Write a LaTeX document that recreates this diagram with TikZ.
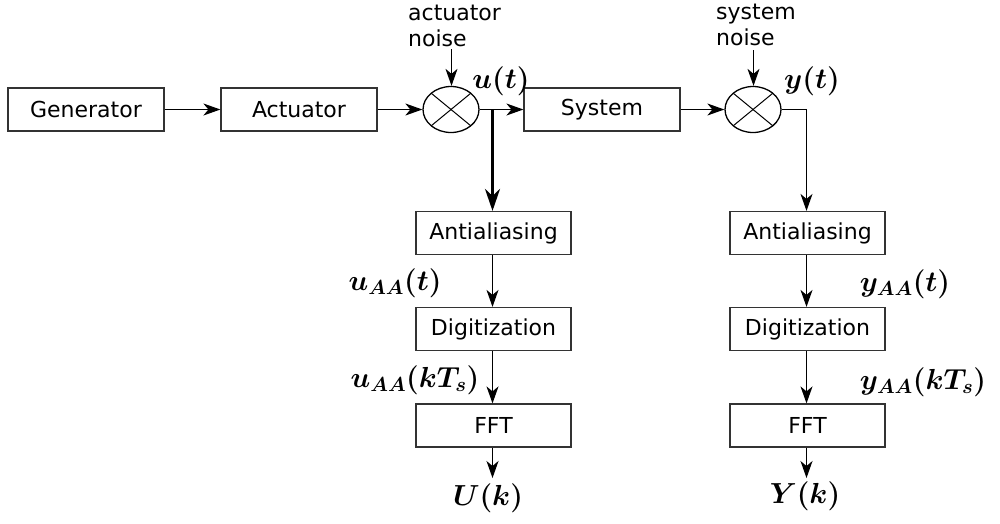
\RequirePackage{fix-cm}
\documentclass[tikz,border=0pt]{standalone}
\usepackage[no-math]{fontspec}
\newfontfamily\dv{DejaVu Sans}
\usetikzlibrary{arrows.meta,shapes.geometric,calc}
\begin{document}
\begin{tikzpicture}[x=1pt,y=-1pt,
  blk/.style={draw=black!80,line width=1.2pt,minimum width=156pt,minimum height=43pt,inner sep=0pt,font=\dv\fontsize{22}{26}\selectfont},
  sumj/.style={ellipse,draw=black,line width=1.3pt,minimum width=56pt,minimum height=46pt,inner sep=0pt},
  lbl/.style={inner sep=0pt,font=\fontsize{29}{33}\selectfont\boldmath},
  ntext/.style={inner sep=0pt,align=left,anchor=north west,font=\dv\fontsize{22}{26}\selectfont},
  con/.style={line width=1.3pt,-{Stealth[length=17pt,width=12pt,inset=5pt]}},
  thickcon/.style={line width=2.4pt,-{Stealth[length=22pt,width=15pt,inset=7pt]}},
  crs/.style={line width=1pt}
]
\useasboundingbox (0,0) rectangle (1000,523);
% blocks
\node[blk] (gen) at (86,109.5) {Generator};
\node[blk] (act) at (299,109.5) {Actuator};
\node[sumj] (j1) at (451,109.5) {};
\node[blk] (sys) at (602,109.5) {System};
\node[sumj] (j2) at (753,109.5) {};
\node[blk,minimum width=155pt] (aaL) at (493.5,233) {Antialiasing};
\node[blk,minimum width=155pt] (dgL) at (493.5,329) {Digitization};
\node[blk,minimum width=155pt] (fftL) at (493.5,425.5) {FFT};
\node[blk,minimum width=155pt] (aaR) at (807.5,233) {Antialiasing};
\node[blk,minimum width=155pt] (dgR) at (807.5,329) {Digitization};
\node[blk,minimum width=155pt] (fftR) at (807.5,425.5) {FFT};
% crosses in junctions
\draw[crs] ($(j1.center)+(-19.8,-16.3)$) -- ($(j1.center)+(19.8,16.3)$);
\draw[crs] ($(j1.center)+(-19.8,16.3)$) -- ($(j1.center)+(19.8,-16.3)$);
\draw[crs] ($(j2.center)+(-19.8,-16.3)$) -- ($(j2.center)+(19.8,16.3)$);
\draw[crs] ($(j2.center)+(-19.8,16.3)$) -- ($(j2.center)+(19.8,-16.3)$);
% noise texts
\node[ntext] (an) at (408,5) {actuator\\noise};
\node[ntext] (sn) at (716,4) {system\\noise};
\coordinate (n1) at (451.5,49);
\coordinate (n2) at (753.5,50);
% labels
\node[lbl] (ut) at (501,81) {$u(t)$};
\node[lbl] (yt) at (812,81) {$y(t)$};
\node[lbl] (uaa) at (395,283) {$u_{AA}(t)$};
\node[lbl] (uaak) at (415,380) {$u_{AA}(kT_s)$};
\node[lbl] (yaa) at (905,284) {$y_{AA}(t)$};
\node[lbl] (yaak) at (923,382) {$y_{AA}(kT_s)$};
\node[lbl] (Uk) at (488,498) {$U(k)$};
\node[lbl] (Yk) at (805,496) {$Y(k)$};
% connector end points
\coordinate (b1) at ($(aaL.north |- j1.east)+(-1,0)$);
\coordinate (b1e) at ($(aaL.north)+(-1,0)$);
\coordinate (r1) at ($(aaR.north)+(-1,0)$);
\coordinate (ls1) at ($(aaL.south)+(-1,0)$);
\coordinate (ln1) at ($(dgL.north)+(-1,0)$);
\coordinate (ls2) at ($(dgL.south)+(-1,0)$);
\coordinate (ln2) at ($(fftL.north)+(-1,0)$);
\coordinate (ls3) at ($(fftL.south)+(-1,0)$);
\coordinate (ue) at (ls3 |- 0,478);
\coordinate (rs1) at ($(aaR.south)+(-1,0)$);
\coordinate (rn1) at ($(dgR.north)+(-1,0)$);
\coordinate (rs2) at ($(dgR.south)+(-1,0)$);
\coordinate (rn2) at ($(fftR.north)+(-1,0)$);
\coordinate (rs3) at ($(fftR.south)+(-1,0)$);
\coordinate (ye) at (rs3 |- 0,478);
% connectors
\draw[con] (gen) -- (act);
\draw[con] (act) -- (j1);
\draw[con] (j1) -- (sys);
\draw[con] (sys) -- (j2);
\draw[con] (n1) -- (n1 |- j1.north);
\draw[con] (n2) -- (n2 |- j2.north);
\draw[thickcon] (b1) -- (b1e);
\draw[con] (j2.east) -| (r1);
\draw[con] (ls1) -- (ln1);
\draw[con] (ls2) -- (ln2);
\draw[con] (ls3) -- (ue);
\draw[con] (rs1) -- (rn1);
\draw[con] (rs2) -- (rn2);
\draw[con] (rs3) -- (ye);
\end{tikzpicture}
\end{document}
